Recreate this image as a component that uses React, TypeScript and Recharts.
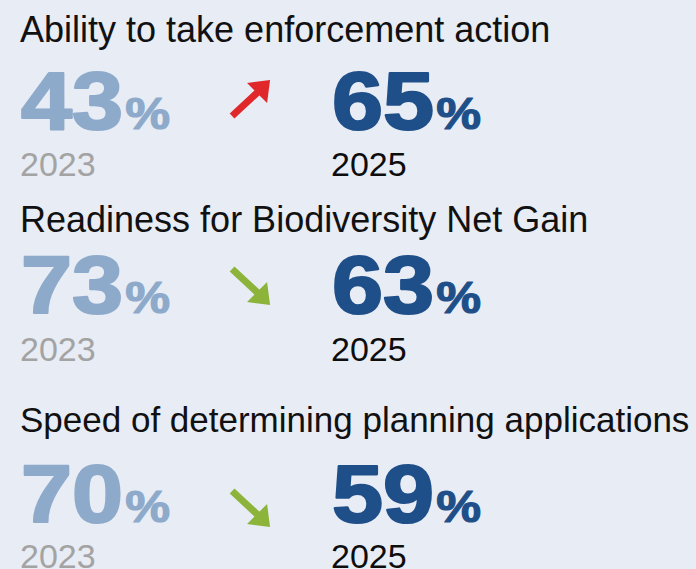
import React from "react";
import { ScatterChart, Scatter, XAxis, YAxis } from "recharts";

// ---- data ----
const metrics = [
  "Ability to take enforcement action",
  "Readiness for Biodiversity Net Gain",
  "Speed of determining planning applications",
];
const values2023 = [43, 73, 70];
const values2025 = [65, 63, 59];
const yearLabels = ["2023", "2025"];

// ---- layout / style (not data) ----
const W = 696;
const H = 569;
const BG = "#e8ecf4";
const FONT = "'Liberation Sans', Arial, Helvetica, sans-serif";
const LIGHT = "#8eaacb";
const DARK = "#1f4f89";
const RED = "#e0282b";
const GREEN = "#8cb43a";
const ARROW_COL = 0.743;
const ROW_SHIFT = [0, -12.5, 0];
const TITLE_DY = [-88, -82, -91];
const TITLE_SIZE = [36, 36, 35];
const ARROW_DY = [-31, -28, -15];
const YEAR_DY = [46, 47, 45];
const NUM_STRETCH = 1.12;

const rows = metrics.map((m, i) => ({
  i,
  metric: m,
  v2023: values2023[i],
  v2025: values2025[i],
}));

const titleData = rows.map((r) => ({ x: 0, y: r.i, ...r }));
const d2023 = rows.map((r) => ({ x: 0, y: r.i, value: r.v2023, year: yearLabels[0], ...r }));
const d2025 = rows.map((r) => ({ x: 1, y: r.i, value: r.v2025, year: yearLabels[1], ...r }));
const arrowData = rows.map((r) => ({ x: ARROW_COL, y: r.i, up: r.v2025 > r.v2023, ...r }));

const TitleShape = (p: any) => {
  const { cx, cy, payload } = p;
  const i = payload.i;
  return (
    <text x={cx} y={cy + ROW_SHIFT[i] + TITLE_DY[i]} fontFamily={FONT} fontSize={TITLE_SIZE[i]} fill="#111111">
      {payload.metric}
    </text>
  );
};

const makeValueShape = (color: string, yearColor: string) => (p: any) => {
  const { cx, cy, payload } = p;
  const i = payload.i;
  const base = cy + ROW_SHIFT[i];
  return (
    <g>
      <g transform={`translate(${cx + 1},${base - 1}) scale(${NUM_STRETCH},1)`}>
        <text
          x={0}
          y={0}
          fontFamily={FONT}
          fontWeight="bold"
          fill={color}
          stroke={color}
          strokeWidth={2.2}
          strokeLinejoin="round"
        >
          <tspan fontSize={82} letterSpacing={0}>{payload.value}</tspan>
          <tspan fontSize={45} dx={2} strokeWidth={1.2}>%</tspan>
        </text>
      </g>
      <text x={cx} y={base + YEAR_DY[i]} fontFamily={FONT} fontSize={34} fill={yearColor}>
        {payload.year}
      </text>
    </g>
  );
};

const Shape2023 = makeValueShape(LIGHT, "#a3a3a3");
const Shape2025 = makeValueShape(DARK, "#0d0d0d");

const ArrowShape = (p: any) => {
  const { cx, cy, payload } = p;
  const i = payload.i;
  const c = cy + ROW_SHIFT[i] + ARROW_DY[i];
  const s = payload.up ? -1 : 1;
  const color = payload.up ? RED : GREEN;
  return (
    <g transform={`translate(${cx},${c})`}>
      <line x1={-19} y1={-17 * s} x2={8} y2={8 * s} stroke={color} strokeWidth={7} />
      <polygon points={`19,${19 * s} -4,${16 * s} 16,${-4 * s}`} fill={color} />
    </g>
  );
};

export default function App() {
  return (
    <div style={{ position: "absolute", left: 0, top: 0, width: W, height: H, background: BG, overflow: "hidden" }}>
      <ScatterChart width={W} height={H} margin={{ top: 130, right: W - 331, bottom: H - 523, left: 20 }}>
        <XAxis type="number" dataKey="x" domain={[0, 1]} hide />
        <YAxis type="number" dataKey="y" domain={[0, 2]} reversed hide />
        <Scatter data={titleData} shape={TitleShape} isAnimationActive={false} />
        <Scatter data={d2023} shape={Shape2023} isAnimationActive={false} />
        <Scatter data={arrowData} shape={ArrowShape} isAnimationActive={false} />
        <Scatter data={d2025} shape={Shape2025} isAnimationActive={false} />
      </ScatterChart>
    </div>
  );
}
